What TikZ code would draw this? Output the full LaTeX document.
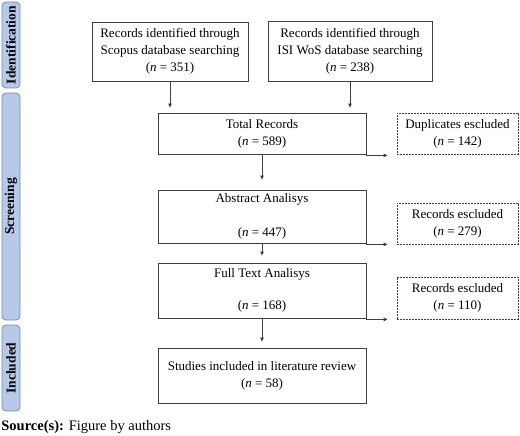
\documentclass[tikz,border=0pt]{standalone}
\usepackage{fontspec}
\setmainfont{Liberation Serif}
\usetikzlibrary{arrows.meta, positioning, calc}
\definecolor{cline}{HTML}{404040}
\definecolor{cbar}{HTML}{B7C9E9}
\definecolor{cbarline}{HTML}{7A8DAE}
\tikzset{
  every picture/.style={line width=0.8pt},
  box/.style={draw=#1, align=center, inner sep=2pt, font=\fontsize{13}{17}\selectfont},
  box/.default=cline,
  dbox/.style={box, dashed, dash pattern=on 1.6pt off 1.4pt},
  bar/.style={draw=cbarline, fill=cbar, rounded corners=4pt, rotate=90, minimum height=18pt,
    inner sep=0pt, font=\fontsize{13.5}{16}\selectfont\bfseries},
  arrow/.style={-{Triangle[length=4pt, width=3.5pt]}, draw=cline, line width=0.8pt, shorten >=6pt},
}

\begin{document}
\begin{tikzpicture}[x=1pt, y=-1pt]
  \useasboundingbox (0,0) rectangle (520,436);
  % phase bars
  \node[bar, minimum width=86pt] (idbar) at (11,45) {Identification};
  \node[bar, minimum width=227pt] (scrbar) at (11,206.5) {Screening};
  \node[bar, minimum width=86pt] (incbar) at (11,368) {Included};
  % records
  \node[box, minimum width=156pt, minimum height=59pt] (scopus) at (170,51.5)
    {Records identified through\\Scopus database searching\\(\textit{n} = 351)};
  \node[box, minimum width=164pt, minimum height=60pt] (wos) at (350,51)
    {Records identified through\\ISI WoS database searching\\(\textit{n} = 238)};
  \node[box, minimum width=208pt, minimum height=41pt] (total) at (262,133.5)
    {Total Records\\(\textit{n} = 589)};
  \node[dbox, minimum width=121pt, minimum height=41pt] (dup) at (457.5,133.5)
    {Duplicates escluded\\(\textit{n} = 142)};
  \node[box, minimum width=208pt, minimum height=53pt] (abstract) at (262,216.5)
    {Abstract Analisys\\[17pt](\textit{n} = 447)};
  \node[dbox, minimum width=121pt, minimum height=41pt] (excla) at (457.5,223.5)
    {Records escluded\\(\textit{n} = 279)};
  \node[box, minimum width=208pt, minimum height=55pt] (fulltext) at (262,290.5)
    {Full Text Analisys\\[15pt](\textit{n} = 168)};
  \node[dbox, minimum width=121pt, minimum height=42pt] (exclb) at (457.5,298)
    {Records escluded\\(\textit{n} = 110)};
  \node[box, minimum width=208pt, minimum height=55pt] (studies) at (262,375.5)
    {Studies included in literature review\\(\textit{n} = 58)};
  % arrows
  \draw[arrow, shorten >=5pt] (scopus.south) -- (scopus.south |- total.north);
  \draw[arrow, shorten >=5pt] (wos.south) -- (wos.south |- total.north);
  \draw[arrow, shorten >=10pt] (total) -- (abstract);
  \draw[arrow, shorten >=7pt] (abstract) -- (fulltext);
  \draw[arrow, shorten >=6pt] (fulltext) -- (studies);
  \draw[arrow, shorten >=9pt] ([yshift=-1pt]total.south east) -- ([yshift=-1pt]total.south east -| dup.west);
  \draw[arrow, shorten >=9pt] ([yshift=-1pt]abstract.south east) -- ([yshift=-1pt]abstract.south east -| excla.west);
  \draw[arrow, shorten >=9pt] ([yshift=-1pt]fulltext.south east) -- ([yshift=-1pt]fulltext.south east -| exclb.west);
  % caption
  \node[anchor=base west, inner sep=0pt, font=\fontsize{14.5}{17}\selectfont] (source) at (1,430)
    {\textbf{Source(s):} Figure by authors};
\end{tikzpicture}
\end{document}
